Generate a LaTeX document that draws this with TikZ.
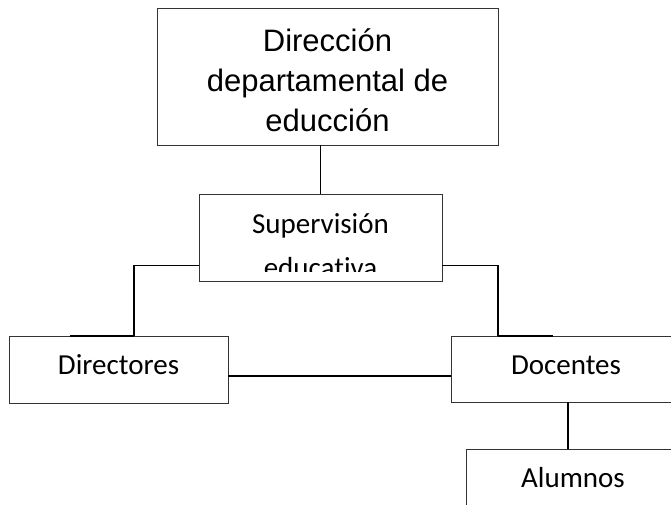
\documentclass[tikz,border=0pt]{standalone}
\usepackage{fontspec}
\setmainfont{Carlito}[Ligatures=NoCommon]
\newfontfamily\arialfont{Liberation Sans}
\usepackage{tikz}
\usetikzlibrary{calc}

\tikzset{
	box/.style={draw=black!80, line width=0.9pt, rectangle, inner sep=0pt, font=\fontsize{29}{40}\selectfont},
	lowbox/.style={box, text height=19pt, text depth=9pt},
	conn/.style={draw=black, line width=1.4pt},
	edge/.style={draw=black, line width=2.4pt}
}

\begin{document}
\begin{tikzpicture}[x=1pt,y=-1pt]
	\useasboundingbox (0,0) rectangle (671,504);
	\fill[white] (0,0) rectangle (671,504);
	\clip (0,0) rectangle (671,504);
	\node[box, minimum width=341pt, minimum height=137pt] (dir) at (327.5,76.5) {};
	\node[align=center, inner sep=0pt, font=\arialfont\fontsize{31}{40}\selectfont] (dirtext) at (327.5,80) {Dirección\\departamental de\\educción};
	\node[box, minimum width=243pt, minimum height=87pt] (sup) at (320.5,237.5) {};
	\begin{scope}
		\clip (199,194) rectangle (442,271);
		\node[align=center, inner sep=0pt, font=\fontsize{29}{44}\selectfont] (suptext) at (320.5,246) {Supervisión\\educativa};
	\end{scope}
	\node[lowbox, minimum width=219pt, minimum height=67pt] (dire) at (118.5,369.5) {Directores};
	\node[lowbox, minimum width=230pt, minimum height=66pt] (doc) at (566,369) {Docentes};
	\node[lowbox, minimum width=214pt, minimum height=66pt] (alu) at (573,482) {Alumnos};
	\coordinate (lk) at (134,336);
	\coordinate (le) at (70,336);
	\coordinate (rk) at (498,336);
	\coordinate (re) at (553,336);
	\draw[conn] (sup.north) -- (sup.north |- dir.south);
	\draw[conn] ([yshift=16pt]sup.south west) -| (lk);
	\draw[edge] (lk) -- (le);
	\draw[conn] ([yshift=16pt]sup.south east) -| (rk);
	\draw[edge] (rk) -- (re);
	\draw[conn] ([yshift=-6.5pt]dire.east) -- ([yshift=-6.5pt]dire.east -| doc.west);
	\draw[conn] ([xshift=2pt]doc.south) -- ([xshift=2pt]doc.south |- alu.north);
\end{tikzpicture}
\end{document}
